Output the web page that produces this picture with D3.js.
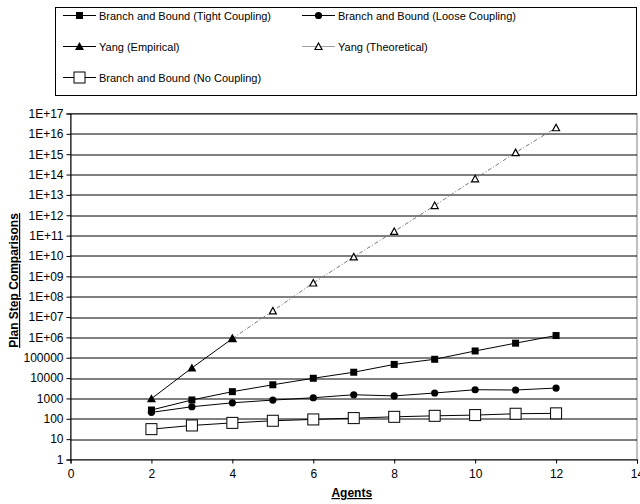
<!DOCTYPE html>
<html>
<head>
<meta charset="utf-8">
<script src="https://cdn.jsdelivr.net/npm/d3@7"></script>
<style>
  body { margin: 0; background: #fff; }
  svg { display: block; font-family: "Liberation Sans", Arial, sans-serif; }
</style>
</head>
<body>
<svg width="640" height="504"></svg>
<script>
// agents on the x axis
var agents = [2, 3, 4, 5, 6, 7, 8, 9, 10, 11, 12];

var tightCoupling = [270, 840, 2150, 4700, 9800, 19400, 47000, 84000, 215000, 520000, 1230000];
var looseCoupling = [207, 390, 610, 830, 1080, 1520, 1330, 1850, 2680, 2600, 3240];
var yangEmpiricalAgents = [2, 3, 4];
var yangEmpirical = [970, 31600, 870000];
var yangTheoreticalAgents = [4, 5, 6, 7, 8, 9, 10, 11, 12];
var yangTheoretical = [870000, 2.0e7, 4.7e8, 9.0e9, 1.6e11, 3.0e12, 6.2e13, 1.2e15, 2.0e16];
var noCoupling = [31, 47, 63, 80, 93, 108, 125, 140, 152, 177, 185];

var xTicks = [0, 2, 4, 6, 8, 10, 12, 14];
var yTicks = d3.range(0, 18).map(function(p) { return Math.pow(10, p); });
var yTickLabels = ["1", "10", "100", "1000", "10000", "100000", "1E+06", "1E+07", "1E+08",
    "1E+09", "1E+10", "1E+11", "1E+12", "1E+13", "1E+14", "1E+15", "1E+16", "1E+17"];

var svg = d3.select("svg");

var margin = { top: 113.5, left: 70.5, right: 3, bottom: 44 };
var plotWidth = 637 - margin.left;
var plotHeight = 459.5 - margin.top;

var x = d3.scaleLinear().domain([0, 14]).range([0, plotWidth]);
var y = d3.scaleLog().domain([1, 1e17]).range([plotHeight, 0]);

var plot = svg.append("g")
    .attr("transform", "translate(" + margin.left + "," + margin.top + ")");

// plot frame (gray) and horizontal grid lines
plot.append("rect")
    .attr("width", plotWidth)
    .attr("height", plotHeight)
    .attr("fill", "none")
    .attr("stroke", "#808080")
    .attr("stroke-width", 1);

plot.selectAll("line.grid")
    .data(yTicks.slice(1))
    .enter().append("line")
    .attr("class", "grid")
    .attr("x1", 0)
    .attr("x2", plotWidth)
    .attr("y1", function(d) { return Math.round(y(d)) + 0.5; })
    .attr("y2", function(d) { return Math.round(y(d)) + 0.5; })
    .attr("stroke", "#000")
    .attr("stroke-width", 1);

// axes
var yAxis = d3.axisLeft(y)
    .tickValues(yTicks)
    .tickFormat(function(d, i) { return yTickLabels[i]; })
    .tickSize(4)
    .tickPadding(3);

var xAxis = d3.axisBottom(x)
    .tickValues(xTicks)
    .tickFormat(d3.format("d"))
    .tickSize(4)
    .tickPadding(6);

var yG = plot.append("g").call(yAxis);
var xG = plot.append("g").attr("transform", "translate(0," + plotHeight + ")").call(xAxis);

[yG, xG].forEach(function(g) {
    g.select(".domain").attr("stroke", "#000");
    g.selectAll(".tick line").attr("stroke", "#000");
    g.selectAll("text")
        .attr("fill", "#000")
        .style("font-family", "Liberation Sans, Arial, sans-serif")
        .style("font-size", "12px");
});

// series lines
var line = function(xs, ys) {
    return d3.line()
        .x(function(d, i) { return x(xs[i]); })
        .y(function(d) { return y(d); })(ys);
};

var series = [
    { name: "Branch and Bound (Tight Coupling)", xs: agents, ys: tightCoupling, marker: "square", color: "#000" },
    { name: "Branch and Bound (Loose Coupling)", xs: agents, ys: looseCoupling, marker: "circle", color: "#000" },
    { name: "Yang (Empirical)", xs: yangEmpiricalAgents, ys: yangEmpirical, marker: "triangle", color: "#000" },
    { name: "Yang (Theoretical)", xs: yangTheoreticalAgents, ys: yangTheoretical, marker: "openTriangle", color: "#777", dash: "4,2,1,2" },
    { name: "Branch and Bound (No Coupling)", xs: agents, ys: noCoupling, marker: "openSquare", color: "#000" }
];

var drawMarker = function(g, type, cx, cy) {
    if (type === "square") {
        g.append("rect").attr("x", cx - 3.5).attr("y", cy - 3.5).attr("width", 7).attr("height", 7).attr("fill", "#000");
    } else if (type === "circle") {
        g.append("circle").attr("cx", cx).attr("cy", cy).attr("r", 3.6).attr("fill", "#000");
    } else if (type === "triangle") {
        g.append("path").attr("d", "M" + cx + "," + (cy - 4.5) + "L" + (cx + 4.5) + "," + (cy + 3.5) + "L" + (cx - 4.5) + "," + (cy + 3.5) + "Z").attr("fill", "#000");
    } else if (type === "openTriangle") {
        g.append("path").attr("d", "M" + cx + "," + (cy - 3.5) + "L" + (cx + 3.5) + "," + (cy + 3) + "L" + (cx - 3.5) + "," + (cy + 3) + "Z")
            .attr("fill", "#fff").attr("stroke", "#000").attr("stroke-width", 1.2);
    } else if (type === "openSquare") {
        g.append("rect").attr("x", cx - 5.5).attr("y", cy - 5.5).attr("width", 11).attr("height", 11)
            .attr("fill", "#fff").attr("stroke", "#000").attr("stroke-width", 1);
    }
};

series.forEach(function(s) {
    plot.append("path")
        .attr("d", line(s.xs, s.ys))
        .attr("fill", "none")
        .attr("stroke", s.color)
        .attr("stroke-width", 1)
        .attr("stroke-dasharray", s.dash || null);
});

// theoretical markers go underneath, so the empirical point at 4 agents stays on top
var markerOrder = [3, 0, 1, 2, 4];
markerOrder.forEach(function(k) {
    var s = series[k];
    var g = plot.append("g");
    s.ys.forEach(function(v, i) {
        drawMarker(g, s.marker, x(s.xs[i]), y(v));
    });
});

// axis titles
svg.append("text")
    .attr("x", margin.left + x(7) - 2)
    .attr("y", 497)
    .attr("text-anchor", "middle")
    .style("font-size", "12px")
    .style("font-weight", "bold")
    .style("text-decoration", "underline")
    .text("Agents");

svg.append("text")
    .attr("transform", "translate(18," + (margin.top + plotHeight / 2 - 6) + ") rotate(-90)")
    .attr("text-anchor", "middle")
    .style("font-size", "12px")
    .style("font-weight", "bold")
    .style("text-decoration", "underline")
    .text("Plan Step Comparisons");

// legend
var legend = svg.append("g");
legend.append("rect")
    .attr("x", 55.5).attr("y", 7.5)
    .attr("width", 581).attr("height", 88)
    .attr("fill", "#fff")
    .attr("stroke", "#000");

var legendPos = [
    { lx: 63, ly: 15 }, { lx: 302, ly: 15 },
    { lx: 63, ly: 46 }, { lx: 302, ly: 46 },
    { lx: 63, ly: 77 }
];

series.forEach(function(s, i) {
    var p = legendPos[i];
    var g = legend.append("g");
    g.append("line")
        .attr("x1", p.lx).attr("x2", p.lx + 33)
        .attr("y1", p.ly + 0.5).attr("y2", p.ly + 0.5)
        .attr("stroke", s.color === "#000" ? "#000" : "#a0a0a0");
    drawMarker(g, s.marker, p.lx + 16.5, p.ly + 0.5);
    g.append("text")
        .attr("x", p.lx + 36)
        .attr("y", p.ly + 4.5)
        .style("font-size", "11px")
        .text(s.name);
});
</script>
</body>
</html>
